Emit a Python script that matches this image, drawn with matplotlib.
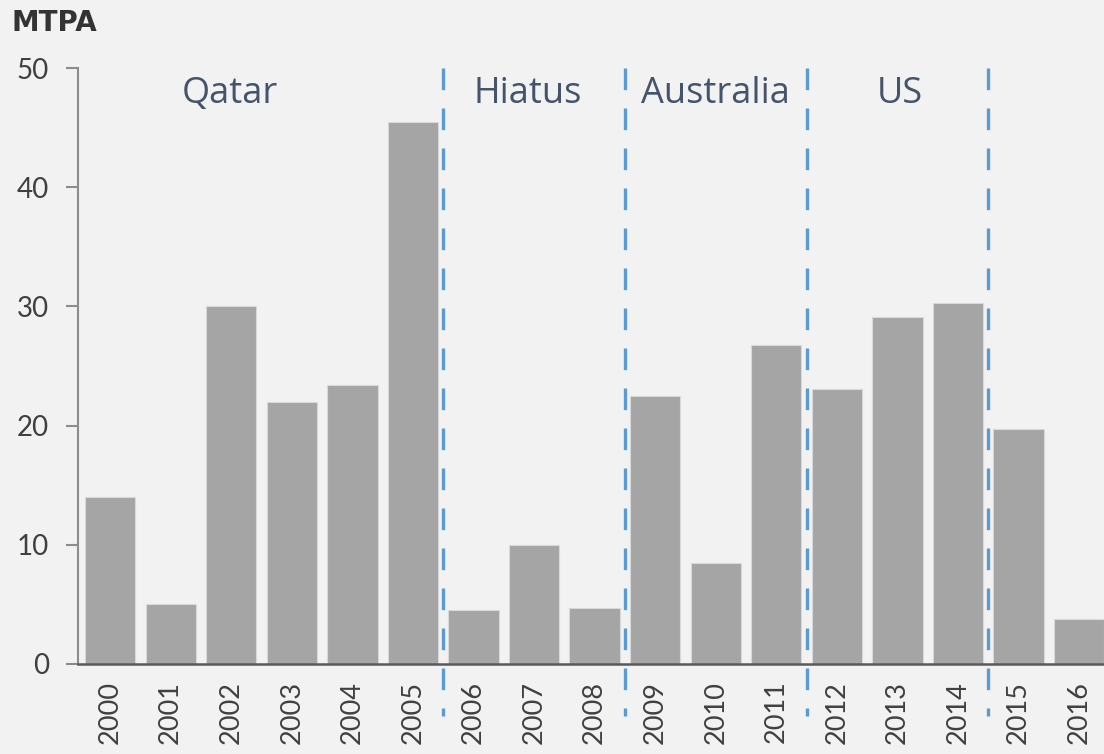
import matplotlib
matplotlib.use("Agg")
import matplotlib.pyplot as plt

years = ["2000", "2001", "2002", "2003", "2004", "2005", "2006", "2007", "2008",
         "2009", "2010", "2011", "2012", "2013", "2014", "2015", "2016"]
values = [14.0, 5.0, 30.0, 22.0, 23.4, 45.5, 4.5, 10.0, 4.7,
          22.5, 8.5, 26.8, 23.1, 29.1, 30.3, 19.7, 3.8]
divider_positions = [5.5, 8.5, 11.5, 14.5]
era_labels = ["Qatar", "Hiatus", "Australia", "US"]
era_label_x = [1.98, 6.9, 9.99, 13.04]
yticks = [0, 10, 20, 30, 40, 50]

bg = "#F2F2F2"
fig = plt.figure(figsize=(11.04, 7.54), dpi=100, facecolor=bg)
ax = fig.add_axes([78/1104, 90/754, 1 - 78/1104, (664-68)/754], facecolor=bg)

x = list(range(len(years)))
ax.bar(x, values, width=0.83, color="#A5A5A5", edgecolor="#D9D9D9", linewidth=0.8, zorder=2)

ax.set_xlim(-0.53, 16.41)
ax.set_ylim(0, 50)
ax.set_yticks(yticks)
ax.set_yticklabels([str(v) for v in yticks], fontsize=20, color="#404040", family="Lato")
ax.set_xticks(x)
ax.set_xticklabels(years, rotation=90, fontsize=19.5, color="#404040", family="Lato")
ax.tick_params(axis="y", length=9, width=1.5, color="#8C8C8C", pad=12)
ax.tick_params(axis="x", length=0, pad=12)

for s in ["top", "right"]:
    ax.spines[s].set_visible(False)
ax.spines["left"].set_color("#8C8C8C")
ax.spines["left"].set_linewidth(1.5)
ax.spines["bottom"].set_color("#595959")
ax.spines["bottom"].set_linewidth(1.8)

for xp in divider_positions:
    ax.plot([xp, xp], [50, -4.4], color="#5B9BD5", linewidth=2.4,
            linestyle=(0, (6.5, 5.5)), clip_on=False, zorder=3)

for lab, xp in zip(era_labels, era_label_x):
    ax.text(xp, 47.8, lab, ha="center", va="center", fontsize=26,
            color="#44546A", family="Open Sans")

fig.text(12/1104, 1 - 23/754, "MTPA", ha="left", va="center", fontsize=20,
         fontweight="bold", color="#333333", family="DejaVu Sans")

fig.savefig("out.png", dpi=100, facecolor=bg)
